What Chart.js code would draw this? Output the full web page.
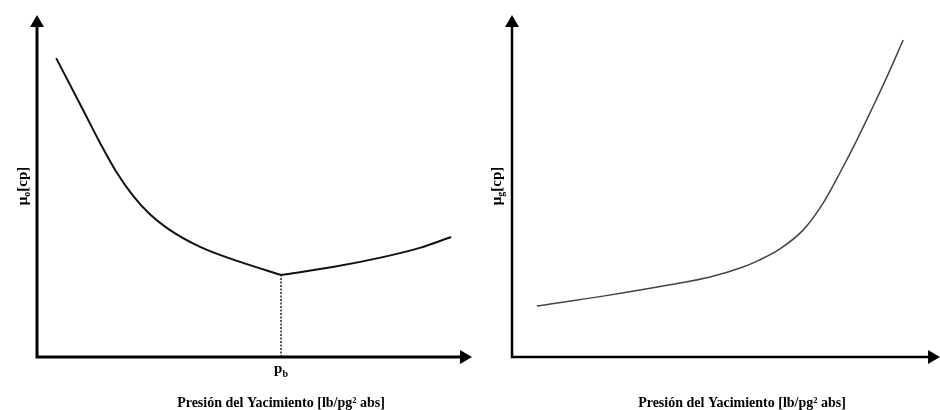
<!DOCTYPE html>
<html lang="es">
<head>
<meta charset="UTF-8" />
<title>Viscosidad vs presión del yacimiento</title>
<script src="https://cdn.jsdelivr.net/npm/chart.js"></script>
<style>
  body { margin: 0; background: #fff; }
  .wrap { position: relative; width: 940px; height: 410px; overflow: hidden; }
  #oilChart { position: absolute; left: 0; top: 0; }
  #gasChart { position: absolute; left: 470px; top: 0; }
</style>
</head>
<body>
<div class="wrap">
  <canvas id="oilChart" width="480" height="410"></canvas>
  <canvas id="gasChart" width="470" height="410"></canvas>
</div>
<script>
// oil viscosity (schematic, 0-100 units)
const oilPressBelow = [4.4, 10.6, 14.5, 18.4, 22.1, 25.9, 29.9, 37.5, 46.7, 56.1];
const oilViscBelow  = [87.4, 72.2, 62.6, 53.8, 47.1, 41.8, 37.7, 32.2, 27.8, 24.0];
const oilPressAbove = [56.1, 68.0, 79.5, 88.0, 95.2];
const oilViscAbove  = [24.0, 26.3, 29.2, 31.9, 35.1];
const bubblePoint = 56.1;
const bubbleVisc = 24.0;

// gas viscosity
const gasPress = [5.8, 21.3, 36.9, 46.3, 53.3, 57.9, 62.6, 68.0, 72.7, 76.6, 80.6, 84.3, 87.6, 91.4];
const gasVisc  = [14.9, 17.8, 21.1, 23.4, 26.0, 28.4, 31.6, 37.1, 45.0, 53.8, 63.5, 73.1, 81.9, 92.7];

const xTitle = "Presión del Yacimiento [lb/pg² abs]";
const SERIF = '"Liberation Serif", "Times New Roman", serif';

function pts(xs, ys) {
  return xs.map((x, i) => ({ x: x, y: ys[i] }));
}

// axis lines with arrow heads + titles
const sketchAxes = {
  id: "sketchAxes",
  afterDraw(chart, args, opts) {
    const ctx = chart.ctx;
    const a = chart.chartArea;
    const head = 12, half = 7;
    ctx.save();
    ctx.strokeStyle = "#000";
    ctx.fillStyle = "#000";
    ctx.lineWidth = opts.axisWidth;
    ctx.beginPath();
    ctx.moveTo(a.left, a.top + head);
    ctx.lineTo(a.left, a.bottom);
    ctx.lineTo(a.right - head, a.bottom);
    ctx.stroke();
    ctx.beginPath();
    ctx.moveTo(a.left, a.top);
    ctx.lineTo(a.left - half, a.top + head);
    ctx.lineTo(a.left + half, a.top + head);
    ctx.closePath();
    ctx.fill();
    ctx.beginPath();
    ctx.moveTo(a.right, a.bottom);
    ctx.lineTo(a.right - head, a.bottom - half);
    ctx.lineTo(a.right - head, a.bottom + half);
    ctx.closePath();
    ctx.fill();

    // x title
    ctx.font = "bold 14px " + SERIF;
    ctx.textAlign = "center";
    ctx.textBaseline = "alphabetic";
    ctx.fillText(xTitle, opts.xTitleX, 407);

    // y title, rotated: mu + subscript + [cp]
    ctx.save();
    ctx.translate(opts.yTitleX, 186);
    ctx.rotate(-Math.PI / 2);
    const big = "bold 15px " + SERIF, small = "bold 10px " + SERIF;
    ctx.font = big;
    const w1 = ctx.measureText("μ").width;
    const w3 = ctx.measureText("[cp]").width;
    ctx.font = small;
    const w2 = ctx.measureText(opts.sub).width;
    let x0 = -(w1 + w2 + w3) / 2;
    ctx.textAlign = "left";
    ctx.font = big;
    ctx.fillText("μ", x0, 5);
    ctx.font = small;
    ctx.fillText(opts.sub, x0 + w1, 8);
    ctx.font = big;
    ctx.fillText("[cp]", x0 + w1 + w2, 5);
    ctx.restore();

    // p_b tick label
    if (opts.pb != null) {
      const px = chart.scales.x.getPixelForValue(opts.pb);
      ctx.textAlign = "left";
      ctx.font = "bold 15px " + SERIF;
      const wp = ctx.measureText("p").width;
      ctx.font = "bold 10px " + SERIF;
      const wb = ctx.measureText("b").width;
      const s = px - (wp + wb) / 2;
      ctx.font = "bold 15px " + SERIF;
      ctx.fillText("p", s, 373);
      ctx.font = "bold 10px " + SERIF;
      ctx.fillText("b", s + wp, 377);
    }
    ctx.restore();
  }
};

function baseOptions(pad, axisOpts) {
  return {
    responsive: false,
    animation: false,
    layout: { padding: pad },
    plugins: {
      legend: { display: false },
      tooltip: { enabled: false },
      sketchAxes: axisOpts
    },
    elements: { point: { radius: 0 } },
    scales: {
      x: { type: "linear", min: 0, max: 100, display: false },
      y: { type: "linear", min: 0, max: 100, display: false }
    }
  };
}

new Chart(document.getElementById("oilChart"), {
  type: "line",
  data: {
    datasets: [
      {
        data: pts(oilPressBelow, oilViscBelow),
        borderColor: "#111",
        borderWidth: 2,
        cubicInterpolationMode: "monotone"
      },
      {
        data: pts(oilPressAbove, oilViscAbove),
        borderColor: "#111",
        borderWidth: 2,
        cubicInterpolationMode: "monotone"
      },
      {
        data: [{ x: bubblePoint, y: 0 }, { x: bubblePoint, y: bubbleVisc }],
        borderColor: "#222",
        borderWidth: 1.5,
        borderDash: [2, 1.5]
      }
    ]
  },
  options: baseOptions(
    { left: 37, top: 15, right: 8, bottom: 53 },
    { axisWidth: 3, xTitleX: 281, yTitleX: 22, sub: "o", pb: bubblePoint }
  ),
  plugins: [sketchAxes]
});

new Chart(document.getElementById("gasChart"), {
  type: "line",
  data: {
    datasets: [
      {
        data: pts(gasPress, gasVisc),
        borderColor: "#444",
        borderWidth: 1.5,
        cubicInterpolationMode: "monotone"
      }
    ]
  },
  options: baseOptions(
    { left: 42, top: 15, right: 0, bottom: 53 },
    { axisWidth: 2.5, xTitleX: 272, yTitleX: 26, sub: "g", pb: null }
  ),
  plugins: [sketchAxes]
});
</script>
</body>
</html>
